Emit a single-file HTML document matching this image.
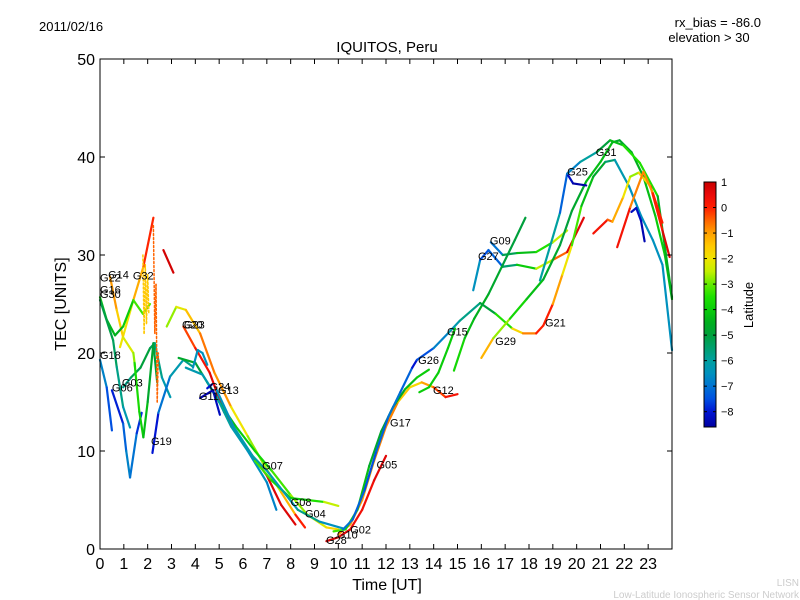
<!DOCTYPE html>
<html><head><meta charset="utf-8">
<style>
body{margin:0;background:#fff;}
svg{display:block;font-family:"Liberation Sans","DejaVu Sans",sans-serif;}
</style></head>
<body>
<svg id="chart" width="800" height="600" viewBox="0 0 800 600">
<defs>
<linearGradient id="cmap" x1="0" y1="1" x2="0" y2="0"></linearGradient>
</defs>
<rect x="0" y="0" width="800" height="600" fill="#fff"/>
<text x="39" y="31" font-size="13">2011/02/16</text>
<text x="761" y="27" font-size="13" text-anchor="end">rx_bias = -86.0</text>
<text x="709" y="42" font-size="13" text-anchor="middle">elevation &gt; 30</text>
<text x="387" y="52" font-size="15" text-anchor="middle">IQUITOS, Peru</text>
<text x="0" y="0" font-size="16" text-anchor="middle" transform="translate(66,304) rotate(-90)">TEC [UNITS]</text>
<text x="387" y="590" font-size="16" text-anchor="middle">Time [UT]</text>
<g id="traces"></g>
<g id="axes"></g>
<g id="labels"></g>
<rect x="704" y="182" width="12" height="245" fill="url(#cmap)" stroke="#000" stroke-width="1"/>
<g id="cbticks"></g>
<text x="0" y="0" font-size="13" text-anchor="middle" transform="translate(753,305) rotate(-90)">Latitude</text>
<text x="799" y="586" font-size="10" fill="#ccc" text-anchor="end">LISN</text>
<text x="799" y="598" font-size="10" fill="#ccc" text-anchor="end">Low-Latitude Ionospheric Sensor Network</text>
</svg>
<script>
const xTicks=[0,1,2,3,4,5,6,7,8,9,10,11,12,13,14,15,16,17,18,19,20,21,22,23];
const yTicks=[0,10,20,30,40,50];
const cbTicks=[1,0,-1,-2,-3,-4,-5,-6,-7,-8];
const traceNames=["A1","A2","A3","A4","G18","G06","G03","L8","G19","R2a","G32d","R0d","D1","D2","D3","D4","D5","D6","G11","G24","TB","B1","B2","B3","B4","B5","R1","R2","R3","R4","R5","R6","R7","R8","R9","R10"];
const traceT=[
[0.84,1.4,1.82,2.24],
[0.42,0.7,0.97,1.4,1.47],
[0,0.28,0.63,0.97,1.4,1.8,2.1],
[0,0.55,0.7,0.97,1.26],
[0,0.28,0.5],
[0.5,0.97,1.1,1.26,1.54,1.75],
[0.97,1.3,1.7,2.1,2.3,2.6,2.95],
[1.45,1.65,1.82,2.0,2.24,2.4],
[2.2,2.45,2.94,3.5,3.9],
[2.66,3.08],
[1.8,1.85,1.9,1.95,2.0,2.05],
[2.24,2.3,2.35,2.4,2.45],
[2.8,3.2,3.6,4.2,4.8,5.5,6.2,6.9,7.6,8.2,8.6],
[3.5,4.0,4.6,5.2,5.8,6.4,7.0,7.6,8.2],
[3.3,4.0,4.5,5.0,5.7,6.5,7.2,8.0,8.7,9.5,10.0],
[3.6,4.3,4.9,5.5,6.2,7.0,7.4],
[6.5,7.2,8,8.7,9.4,10],
[4.9,5.6,6.4,7.0,7.55,8.3,9.2,10.2],
[4.2,4.74,5.03],
[4.5,4.7],
[3.9,4.1,4.3,4.5],
[9.5,10,10.5,11,11.5,12],
[10,10.5,11,11.5,12,12.5,13,13.5,14,14.5,15],
[9.8,10.3,10.8,11.3,11.8,12.3,12.8,13.3,13.8],
[10.2,10.6,11.1,11.6,12.1,12.6,13.1,13.3],
[13.4,13.8,14.2,14.6,14.9],
[15.66,15.95,16.3,16.9,17.5,18.3,19,19.6,20.3],
[16.4,16.9,17.5,18.3,19,19.6],
[14.85,15.3,15.7,16.3,16.9,17.4,17.85],
[13.3,14,14.6,15.1,15.95,16.6,17.3,17.75,18.3,18.6,19.0,19.4,19.8,20.2,20.7,21.2,21.6,22.2,22.7,23.2,23.6,24],
[16,16.5,17.2,17.9,18.6,19.3,19.8,20.4,21,21.5,21.8,22.3,22.8,23.3,23.7,24],
[18.46,19.3,19.6,19.85,20.4],
[19.6,20.15,20.85,21.4,21.95,22.65,23.4,24],
[20.7,21.3,21.5,21.95,22.25,22.6,23.1,23.6,23.9],
[21.7,22.25,22.8,23.2,23.6],
[22.3,22.5,22.7,22.85]
];
const traceV=[
[20.6,25.4,28.8,33.8],
[27.8,24.4,21.6,20,18.6],
[25.7,23.4,21.8,22.7,25.4,24,25],
[25.4,21.3,18.6,14.5,12.4],
[19.3,16.5,12.1],
[16.2,12.8,10,7.3,11.8,13.9],
[16.5,17.5,18.5,20.5,21,17.5,15.5],
[19,14,11.4,15,21,17],
[9.8,13.9,17.6,19.3,18.6],
[30.5,28.2],
[30,22,29,23,28,24],
[33,22,27,15,20],
[22.7,24.7,24.4,22,18,14.5,11.5,8.5,5.8,3.5,2.2],
[22.7,20.5,18,14,11.5,9.5,7.5,4.5,2.5],
[19.5,19,17,15,12.5,10,8,5.5,3.5,2.2,2],
[18.5,17.8,15.5,12.5,10,6.8,4],
[9,7,5.2,5,4.8,4.4],
[16.2,12.5,9.5,8,6.3,4,2.8,2.1],
[15.4,16.2,13.7],
[16.4,16.8],
[18.5,20.3,20,18.8],
[0.8,1.2,2,4,7,9.5],
[1.5,2.5,5,9,12.5,15,16.5,17,16.5,15.5,15.8],
[1.8,2,4,8.5,12,14.5,16.3,17.5,18.3],
[2,3,6,10,13.5,16,18.5,19.3],
[16,16.5,18,20.5,22.5],
[26.4,29.5,30.5,28.8,29,28.6,29.5,30.3,33.8],
[31.3,30,30.2,30.3,31.3,32.5],
[18.2,21.5,23.5,26,29,31.5,33.8],
[19.3,20.5,22,23.3,25.1,24,22.5,22,22,22.8,25,28,31,35,38,39.5,39.7,37,34,31.5,29,20.3],
[19.5,21.5,23.5,25.5,27.5,31,34.5,37.5,39.5,41.5,41.7,40.5,38,34,30,25.5],
[27.4,34.3,38.3,37.3,37.1],
[38.3,39.5,40.5,41.7,41.2,39.4,36,25.7],
[32.2,33.6,33.4,35.9,38,38.4,37,32.5,29.8],
[30.8,34.9,38.5,36.3,33.3],
[34.4,34.8,33.5,31.4]
];
const traceLat=[
[-2.5,-1.5,-0.8,0.7],
[-0.7,-1.2,-2,-2.5,-3],
[-4,-4.2,-4.5,-4.5,-3.5,-3,-3],
[-5,-5.2,-5.5,-6,-6.5],
[-6.5,-7,-8],
[-8.3,-7.5,-7,-6.5,-7.5,-8],
[-6,-5.5,-5,-5,-5.5,-6,-6.5],
[-3.5,-3.8,-4,-4.5,-5,-5],
[-8.5,-7.5,-6.5,-6,-5.5],
[0.8,0.9],
[-1.5,-1.5,-1.5,-1.5,-1.5,-1.5],
[-0.5,-0.5,-0.5,-0.5,-0.5],
[-3,-2.5,-1.8,-1,-0.3,-1.5,-2.5,-3,-2,-0.5,0.5],
[-0.5,0,0.5,0.7,0.8,0.8,0.9,0.5,0.9],
[-4.5,-5,-5,-4.5,-4,-4,-3.5,-3,-2.5,-2,-1.5],
[-6,-6.5,-6,-6,-6.5,-6.5,-7],
[-3,-3.5,-4,-4,-3,-2],
[-6.5,-6.5,-6,-6,-6.5,-6,-5.5,-7.5],
[-8.5,-8.5,-8],
[-8,-8],
[-6.5,-6.5,-6.5,-6.5],
[0.9,0.8,0.5,0.2,0.5,0.8],
[-1,-0.8,-1,-1,-0.5,-1,-2,-1.5,-0.5,0,0.5],
[-3,-3.5,-4,-4.5,-5,-5,-4.5,-4,-4],
[-7,-7,-7.5,-7.5,-7,-7,-7.5,-8.5],
[-4,-4,-4,-4,-4],
[-6,-7,-8,-6.5,-4.5,-3.5,-1.5,0.5,0.8],
[-8,-6,-4.5,-4,-3,-2],
[-3.5,-4,-4.5,-4.5,-5,-5,-5],
[-8,-7,-6.5,-6,-5.5,-4.5,-2.5,-1,-0.5,0.5,-0.5,-1.5,-2.5,-4,-4.5,-5,-6,-6.5,-6.5,-6.5,-6.5,-6.5],
[-0.5,-2,-3.5,-4,-4.5,-5,-5,-4.5,-4,-4.5,-5,-4.5,-4.5,-4,-4,-4.5],
[-5.5,-6.5,-8,-8.5,-8.5],
[-7,-6.5,-5.5,-4.5,-4,-3,-4,-5],
[0.7,-0.2,-0.8,-1.5,-2.5,-3,-0.5,0.6,0.8],
[0.8,-0.3,-1.2,-0.5,0.5],
[-8.5,-8,-8.3,-8.5]
];
const traceDashed=[0,0,0,0,0,0,0,0,0,0,1,1,0,0,0,0,0,0,0,0,0,0,0,0,0,0,0,0,0,0,0,0,0,0,0,0];
const labelText=["G22","G14","G16","G30","G32","G18","G06","G03","G19","G20","G23","G24","G13","G11","G07","G08","G04","G28","G10","G02","G05","G17","G26","G12","G15","G27","G09","G29","G21","G25","G31"];
const labelT=[0,0.34,0,0,1.38,0,0.5,0.92,2.14,3.44,3.52,4.6,4.95,4.15,6.8,8,8.6,9.48,9.94,10.5,11.6,12.17,13.35,13.97,14.56,15.86,16.36,16.58,18.67,19.6,20.8];
const labelV=[27.7,28,26.5,26,27.9,19.8,16.5,17,11,22.9,22.9,16.6,16.2,15.6,8.5,4.8,3.6,0.9,1.5,2.0,8.6,12.9,19.3,16.2,22.2,29.9,31.5,21.2,23.1,38.5,40.5];

const X0=100,X1=672,Y0=549,Y1=59;
const xs=t=>X0+(t/24)*(X1-X0);
const ys=v=>Y0-(v/50)*(Y0-Y1);
const LMIN=-8.6,LMAX=1.0;
const CM=[[1,[200,0,0]],[0.5,[235,10,10]],[0,[255,30,0]],[-0.5,[255,100,0]],[-1,[255,160,0]],[-1.5,[255,200,0]],[-2,[240,228,0]],[-2.5,[195,240,0]],[-3,[100,235,0]],[-3.5,[30,225,0]],[-4,[10,205,10]],[-4.5,[0,175,30]],[-5,[0,160,60]],[-5.5,[0,160,110]],[-6,[0,160,160]],[-6.5,[0,145,190]],[-7,[0,115,210]],[-7.5,[0,80,225]],[-8,[0,20,210]],[-8.6,[0,0,160]]];
function cmap(lat){
  lat=Math.max(LMIN,Math.min(LMAX,lat));
  for(let i=0;i<CM.length-1;i++){
    const [a,ca]=CM[i],[b,cb]=CM[i+1];
    if(lat<=a&&lat>=b){const f=(a-lat)/(a-b);return `rgb(${ca.map((c,j)=>Math.round(c+(cb[j]-c)*f)).join(',')})`;}
  }
  return 'rgb(0,0,160)';
}
const NS="http://www.w3.org/2000/svg";
const grad=document.getElementById('cmap');
CM.slice().reverse().forEach(([l,c])=>{const s=document.createElementNS(NS,'stop');s.setAttribute('offset',((l-LMIN)/(LMAX-LMIN)).toFixed(4));s.setAttribute('stop-color',`rgb(${c.join(',')})`);grad.appendChild(s);});
const tg=document.getElementById('traces');
traceT.forEach((ts,i)=>{
  const g=document.createElementNS(NS,'g');
  
  
  for(let k=0;k<ts.length-1;k++){
    const l=document.createElementNS(NS,'line');
    l.setAttribute('x1',xs(ts[k]));l.setAttribute('y1',ys(traceV[i][k]));
    l.setAttribute('x2',xs(ts[k+1]));l.setAttribute('y2',ys(traceV[i][k+1]));
    l.setAttribute('stroke',cmap((traceLat[i][k]+traceLat[i][k+1])/2));
    l.setAttribute('stroke-width',traceDashed[i]?1.5:2.2);
    l.setAttribute('stroke-linecap','round');
    if(traceDashed[i])l.setAttribute('stroke-dasharray','2,2');
    
    
    g.appendChild(l);
  }
  tg.appendChild(g);
});
const ax=document.getElementById('axes');
const frame=document.createElementNS(NS,'rect');
frame.setAttribute('x',X0);frame.setAttribute('y',Y1);frame.setAttribute('width',X1-X0);frame.setAttribute('height',Y0-Y1);
frame.setAttribute('fill','none');frame.setAttribute('stroke','#000');frame.setAttribute('stroke-width','1');


ax.appendChild(frame);
function ln(x1,y1,x2,y2,p){const l=document.createElementNS(NS,'line');l.setAttribute('x1',x1);l.setAttribute('y1',y1);l.setAttribute('x2',x2);l.setAttribute('y2',y2);l.setAttribute('stroke','#000');l.setAttribute('stroke-width','1');p.appendChild(l);return l;}
function tx(x,y,s,size,anchor,p){const t=document.createElementNS(NS,'text');t.setAttribute('x',x);t.setAttribute('y',y);t.setAttribute('font-size',size);t.setAttribute('text-anchor',anchor);t.textContent=s;p.appendChild(t);return t;}
xTicks.forEach(t=>{
  const x=xs(t);
  const a=ln(x,Y0,x,Y0-5,ax);
  
  
  const b=ln(x,Y1,x,Y1+5,ax);
  
  
  const l=tx(x,Y0+20,String(t),16,'middle',ax);
  
  
});
yTicks.forEach(v=>{
  const y=ys(v);
  const a=ln(X0,y,X0+5,y,ax);
  
  
  const b=ln(X1,y,X1-5,y,ax);
  
  
  const l=tx(X0-5,y+6,String(v),16,'end',ax);
  
  
});
const lg=document.getElementById('labels');
labelText.forEach((s,i)=>{
  const t=tx(xs(labelT[i]),ys(labelV[i])+4,s,11,'start',lg);
  
  
});
const cb=document.getElementById('cbticks');
cbTicks.forEach(v=>{
  const y=427-(v-LMIN)/(LMAX-LMIN)*245;
  const a=ln(704,y,707,y,cb);
  
  
  const b=ln(716,y,713,y,cb);
  
  
  const l=tx(721,y+4,v<0?'\u2212'+Math.abs(v):String(v),11,'start',cb);
  
  
});
</script>
</body></html>
